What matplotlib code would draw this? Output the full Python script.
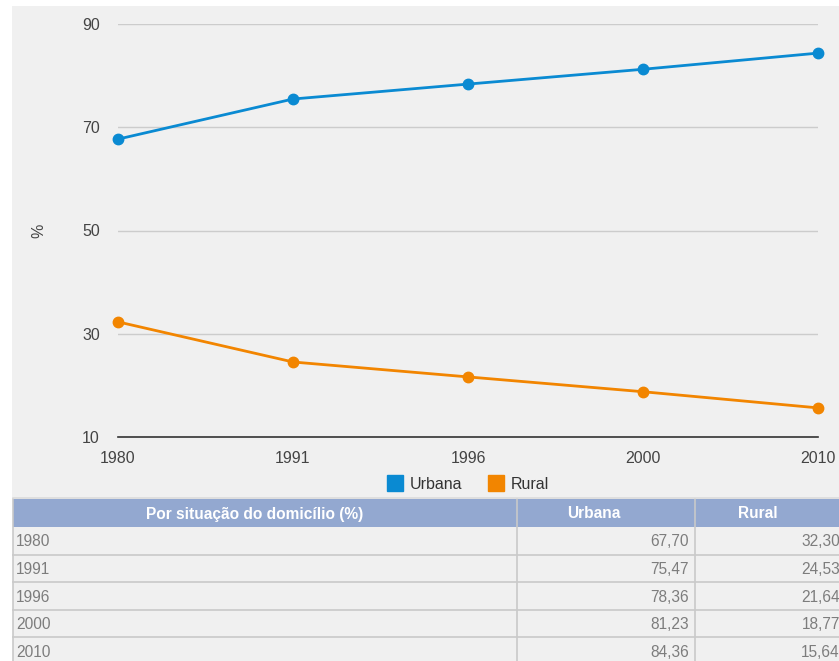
import matplotlib.pyplot as plt
from matplotlib.patches import Rectangle
from matplotlib.lines import Line2D

plt.rcParams['font.family'] = ['Liberation Sans', 'DejaVu Sans']

# data
anos = ['1980', '1991', '1996', '2000', '2010']
urbana = [67.70, 75.47, 78.36, 81.23, 84.36]
rural = [32.30, 24.53, 21.64, 18.77, 15.64]
y_ticks = [10, 30, 50, 70, 90]
col_titulos = ['Por situação do domicílio (%)', 'Urbana', 'Rural']

azul = '#0a8ad2'
laranja = '#f28500'
fundo = '#f0f0f0'
cinza_txt = '#7d7d7d'

W, H = 839, 661
fig = plt.figure(figsize=(W / 100, H / 100), dpi=100, facecolor='white')

# background axes in pixel coordinates (table, panel)
bg = fig.add_axes([0, 0, 1, 1])
bg.set_xlim(0, W)
bg.set_ylim(H, 0)
bg.axis('off')
bg.add_patch(Rectangle((12, 6), W - 12, 491, facecolor=fundo, edgecolor='none'))

# table
col_x = [13, 517, 695, 860]
head_top, head_h, row_h = 499, 28, 27.6
borda = '#c9c9c9'
bg.add_patch(Rectangle((col_x[0], head_top), col_x[-1] - col_x[0], head_h,
                       facecolor='#93a8d0', edgecolor='none'))
head_cx = [255, 594, 758]
for i, t in enumerate(col_titulos):
    bg.text(head_cx[i], head_top + head_h / 2 + 1, t, color='white', fontsize=11.2,
            fontweight='bold', ha='center', va='center')
for r, ano in enumerate(anos):
    y0 = head_top + head_h + r * row_h
    bg.add_patch(Rectangle((col_x[0], y0), col_x[-1] - col_x[0], row_h,
                           facecolor=fundo, edgecolor='none'))
    bg.plot([col_x[0], W], [y0 + row_h, y0 + row_h], color=borda, lw=1.2)
    yc = y0 + row_h / 2 + 1
    bg.text(16, yc, ano, color=cinza_txt, fontsize=11.2, ha='left', va='center')
    bg.text(689, yc, f'{urbana[r]:.2f}'.replace('.', ','), color=cinza_txt,
            fontsize=11.2, ha='right', va='center')
    bg.text(840, yc, f'{rural[r]:.2f}'.replace('.', ','), color=cinza_txt,
            fontsize=11.2, ha='right', va='center')
for i in range(1, 3):
    bg.plot([col_x[i], col_x[i]], [head_top, H], color=borda, lw=1.2)
bg.plot([col_x[0], col_x[0]], [head_top, H], color=borda, lw=1.2)
bg.plot([col_x[0], W], [head_top - 1, head_top - 1], color='#d8d8d8', lw=1.2)

# chart axes
left, right = 118 / W, 818 / W
bottom, top = (H - 437) / H, (H - 24) / H
ax = fig.add_axes([left, bottom, right - left, top - bottom])
ax.set_facecolor('none')
x = list(range(len(anos)))
ax.plot(x, urbana, color=azul, lw=2, marker='o', markersize=7.5, clip_on=False, zorder=3)
ax.plot(x, rural, color=laranja, lw=2, marker='o', markersize=7.5, clip_on=False, zorder=3)
ax.set_xlim(0, len(anos) - 1)
ax.set_ylim(10, 90)
ax.set_yticks(y_ticks)
ax.set_xticks(x)
ax.set_xticklabels(anos)
for s in ['top', 'right', 'left']:
    ax.spines[s].set_visible(False)
ax.spines['bottom'].set_color('#333333')
ax.spines['bottom'].set_linewidth(1.2)
ax.grid(axis='y', color='#cccccc', lw=1)
ax.tick_params(axis='both', length=0, labelsize=11.5, labelcolor='#444444')
ax.tick_params(axis='y', pad=13)
ax.tick_params(axis='x', pad=10)
ax.set_ylabel('%', fontsize=11.5, color='#444444', labelpad=26)

handles = [Line2D([], [], marker='s', color=azul, lw=0, markersize=11.5),
           Line2D([], [], marker='s', color=laranja, lw=0, markersize=11.5)]
ax.legend(handles, ['Urbana', 'Rural'], loc='center', bbox_to_anchor=(0.5, -0.115),
          ncol=2, frameon=False, fontsize=11.5, handletextpad=0.4,
          columnspacing=1.6, handlelength=1.0)
for t in ax.get_legend().get_texts():
    t.set_color('#333333')

fig.savefig('out.png', dpi=100, facecolor='white')
